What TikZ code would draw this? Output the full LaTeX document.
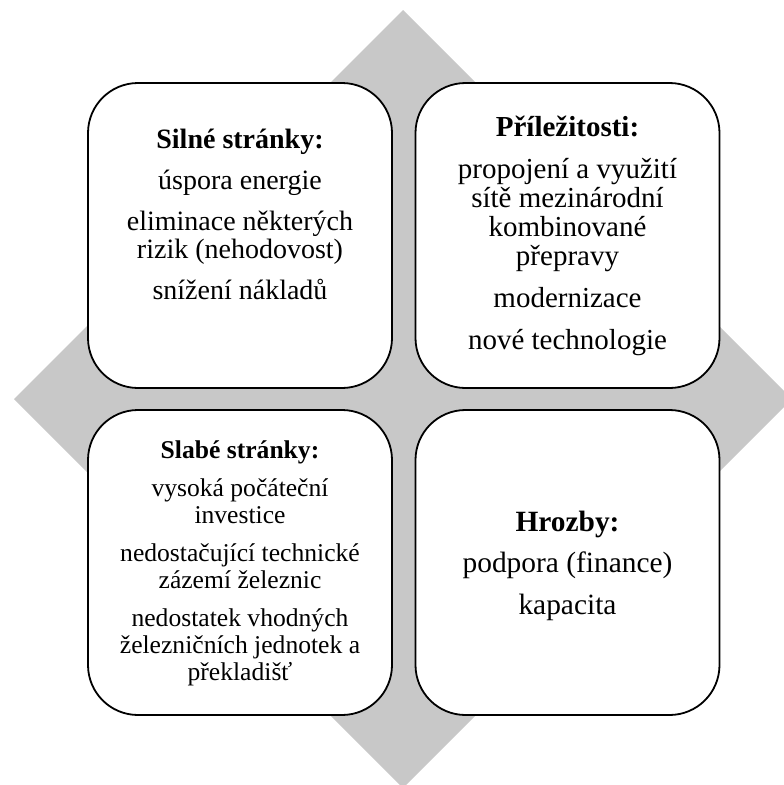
\documentclass[tikz,border=0pt]{standalone}
\usepackage{fontspec}
\setmainfont{Liberation Serif}
\usetikzlibrary{positioning}
\definecolor{qgray}{RGB}{200,200,200}
\newcommand{\swotstrut}{\rule{0pt}{1em}}
\tikzset{
  swotbox/.style={draw, fill=white, line width=1.8pt, rounded corners=50pt, minimum width=304pt, minimum height=305pt, inner sep=0pt},
  swottext/.style={align=center, inner sep=0pt, anchor=north},
  swotsize/.style 2 args={font=\fontsize{#1}{#2}\selectfont}
}

\begin{document}
\begin{tikzpicture}[x=1pt,y=-1pt]
\useasboundingbox (0,0) rectangle (784,785);
\clip (0,0) rectangle (784,785);

% grey diamond behind the boxes
\fill[qgray] (403,10) -- (792,399) -- (403,788) -- (14,399) -- cycle;

\node[swotbox] (silne) at (240,235.5) {};
\node[swotbox] (prilez) at (567.5,235.5) {};
\node[swotbox] (slabe) at (240,562.5) {};
\node[swotbox] (hrozby) at (567.5,562.5) {};

\node[swottext, swotsize={28}{28}] (silnetext) at (240,120)
  {\swotstrut\textbf{Silné stránky:}\\[13pt] úspora energie\\[13pt] eliminace některých\\ rizik (nehodovost)\\[13pt] snížení nákladů};
\node[swottext, swotsize={29}{29}] (prileztext) at (567.5,107)
  {\swotstrut\textbf{Příležitosti:}\\[13pt] propojení a využití\\ sítě mezinárodní\\ kombinované\\ přepravy\\[13pt] modernizace\\[13pt] nové technologie};
\node[swottext, swotsize={25.6}{27}] (slabetext) at (240,432.4)
  {\swotstrut\textbf{Slabé stránky:}\\[11pt] vysoká počáteční\\ investice\\[11pt] nedostačující technické\\ zázemí železnic\\[11pt] nedostatek vhodných\\ železničních jednotek a\\ překladišť};
\node[swottext, swotsize={29.4}{29.4}] (hrozbytext) at (567.5,501.6)
  {\swotstrut\textbf{Hrozby:}\\[12pt] podpora (finance)\\[12pt] kapacita};

\end{tikzpicture}
\end{document}
